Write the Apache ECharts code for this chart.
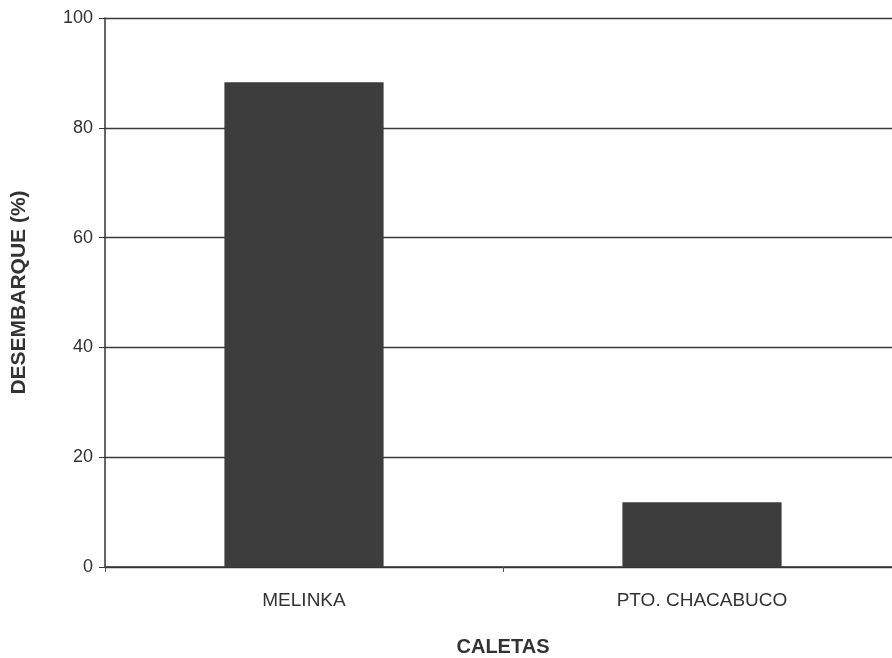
<!DOCTYPE html>
<html><head><meta charset="utf-8">
<script src="https://cdn.jsdelivr.net/npm/echarts@6/dist/echarts.min.js"></script>
<style>html,body{margin:0;padding:0;background:#fff}#c{width:892px;height:658px}</style>
</head><body><div id="c"></div>
<script>
const categories = ['MELINKA', 'PTO. CHACABUCO'];
const values = [88.3, 11.8];
const yTicks = [0, 20, 40, 60, 80, 100];

const chart = echarts.init(document.getElementById('c'), null, {renderer: 'canvas'});
chart.setOption({
  backgroundColor: '#fff',
  animation: false,
  grid: {left: 105, right: -9, top: 18, bottom: 91, containLabel: false, outerBoundsMode: 'none'},
  xAxis: {
    type: 'category', data: categories,
    name: 'CALETAS', nameLocation: 'middle', nameGap: 70,
    nameTextStyle: {fontFamily: 'Liberation Sans, Arial', fontSize: 20, fontWeight: 'bold', color: '#333'},
    axisLine: {lineStyle: {color: '#333', width: 1.5}},
    axisTick: {show: true, alignWithLabel: false, length: 5, lineStyle: {color: '#555'}},
    axisLabel: {fontFamily: 'Liberation Sans, Arial', fontSize: 19, color: '#333', margin: 24}
  },
  yAxis: {
    type: 'value', min: 0, max: 100, interval: 20,
    name: 'DESEMBARQUE (%)', nameLocation: 'middle', nameGap: 75, nameRotate: 90,
    nameTextStyle: {fontFamily: 'Liberation Sans, Arial', fontSize: 21, fontWeight: 'bold', color: '#333'},
    axisLine: {show: true, lineStyle: {color: '#333', width: 1.5}},
    axisTick: {show: true, length: 6, lineStyle: {color: '#333'}},
    axisLabel: {fontFamily: 'Liberation Sans, Arial', fontSize: 18, color: '#333', margin: 12,
      formatter: v => yTicks.includes(v) ? String(v) : ''},
    splitLine: {show: true, lineStyle: {color: '#3a3a3a', width: 1.3}}
  },
  series: [{
    type: 'bar', data: values, barCategoryGap: '60%',
    itemStyle: {color: '#3d3d3d'}
  }]
});
</script></body></html>
